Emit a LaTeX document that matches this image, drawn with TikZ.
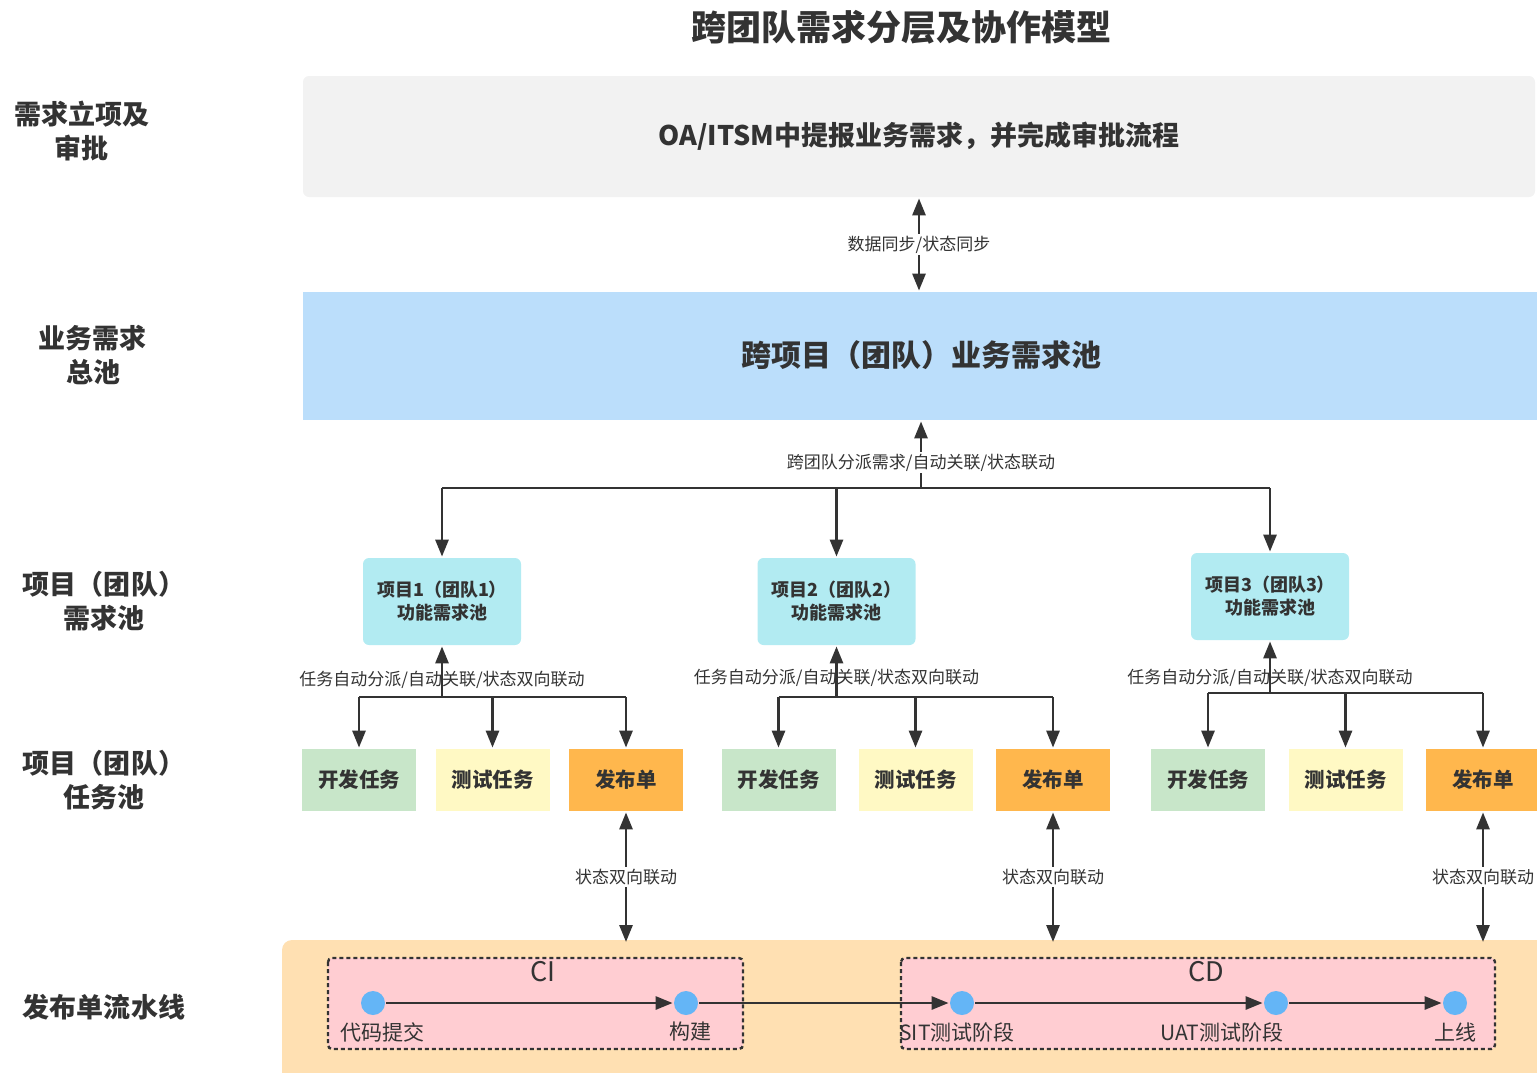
\documentclass[tikz,border=0pt]{standalone}
\usepackage{fontspec}
\setmainfont{Noto Sans CJK SC}
\usetikzlibrary{arrows.meta,positioning}
\definecolor{ink}{HTML}{333333}
\definecolor{graybox}{HTML}{F2F2F2}
\definecolor{poolblue}{HTML}{BBDEFB}
\definecolor{projcyan}{HTML}{B2EBF2}
\definecolor{devgreen}{HTML}{C8E6C9}
\definecolor{testyellow}{HTML}{FFF9C4}
\definecolor{relorange}{HTML}{FFB74D}
\definecolor{pipepeach}{HTML}{FFE0B2}
\definecolor{stagepink}{HTML}{FFCDD2}
\definecolor{dotblue}{HTML}{64B5F6}

\begin{document}
\begin{tikzpicture}[x=0.5pt,y=-0.5pt,color=ink,line width=1.4pt,
  side/.style={align=center,font=\bfseries\fontsize{13.5}{17}\selectfont},
  lbl/.style={font=\fontsize{8.5}{10}\selectfont,fill=white,inner sep=1pt},
  lblclear/.style={font=\fontsize{8.5}{10}\selectfont,inner sep=1pt},
  proj/.style={fill=projcyan,rounded corners=3pt,minimum width=79pt,minimum height=43.5pt,align=center,font=\bfseries\fontsize{9}{11.5}\selectfont},
  task/.style={minimum width=57pt,minimum height=31pt,font=\bfseries\fontsize{10.25}{12}\selectfont},
  dot/.style={circle,fill=dotblue,minimum size=12pt,inner sep=0pt},
  stage/.style={fill=stagepink,line width=1.2pt,dash pattern=on 2pt off 1.5pt,rounded corners=2pt},
  steplbl/.style={font=\fontsize{10.5}{12}\selectfont},
  arr/.style={-{Triangle[length=8.5pt,width=6.5pt]}},
  twoway/.style={{Triangle[length=8.5pt,width=6.5pt]}-{Triangle[length=8.5pt,width=6.5pt]}}]
\useasboundingbox (0,0) rectangle (1537,1072);

% title and layer names
\node[font=\bfseries\fontsize{17.5}{20}\selectfont] (title) at (901,27) {跨团队需求分层及协作模型};
\node[side] (s1) at (82,131) {需求立项及\\审批};
\node[side] (s2) at (93,355) {业务需求\\总池};
\node[side] (s3) at (104,601) {项目（团队）\\需求池};
\node[side] (s4) at (104,780) {项目（团队）\\任务池};
\node[side] (s5) at (104,1007) {发布单流水线};

% approval and business pool
\node[fill=graybox,rounded corners=3pt,minimum width=616pt,minimum height=60.5pt,font=\bfseries\fontsize{13.5}{16}\selectfont] (oa) at (919,136.5) {OA/ITSM中提报业务需求，并完成审批流程};
\node[fill=poolblue,minimum width=621pt,minimum height=64pt] (pool) at (924,356) {};
\node[font=\bfseries\fontsize{15}{18}\selectfont] (pooltext) at (921,355) {跨项目（团队）业务需求池};
\draw[twoway] (oa.south) -- node[lbl] {数据同步/状态同步} (oa.south |- pool.north);

% project pools
\node[proj] (p1) at (442,601.5) {项目1（团队1）\\功能需求池};
\node[proj] (p2) at (836.5,601.5) {项目2（团队2）\\功能需求池};
\node[proj] (p3) at (1270,596.5) {项目3（团队3）\\功能需求池};
\coordinate (split) at (921,488);
\draw[arr] (split) -- node[lbl,pos=0.38] {跨团队分派需求/自动关联/状态联动} (split |- pool.south);
\draw (p1.north |- split) -- (p3.north |- split);
\draw[arr] (p1.north |- split) -- (p1.north);
\draw[arr] (p2.north |- split) -- (p2.north);
\draw[arr] (p3.north |- split) -- (p3.north);

% task pools
\node[task,fill=devgreen] (d1) at (359,780) {开发任务};
\node[task,fill=testyellow] (t1) at (492.5,780) {测试任务};
\node[task,fill=relorange] (r1) at (626,780) {发布单};
\node[task,fill=devgreen] (d2) at (778.5,780) {开发任务};
\node[task,fill=testyellow] (t2) at (915.5,780) {测试任务};
\node[task,fill=relorange] (r2) at (1053,780) {发布单};
\node[task,fill=devgreen] (d3) at (1208,780) {开发任务};
\node[task,fill=testyellow] (t3) at (1345.5,780) {测试任务};
\node[task,fill=relorange] (r3) at (1483,780) {发布单};

\coordinate (j1) at (442,697);
\coordinate (j2) at (836.5,697);
\coordinate (j3) at (1270,693);
\draw[arr] (j1) -- node[lblclear,pos=0.33] {任务自动分派/自动关联/状态双向联动} (p1.south);
\draw[arr] (j2) -- node[lblclear,pos=0.37] {任务自动分派/自动关联/状态双向联动} (p2.south);
\draw[arr] (j3) -- node[lblclear,pos=0.3] {任务自动分派/自动关联/状态双向联动} (p3.south);
\draw (d1.north |- j1) -- (r1.north |- j1);
\draw (d2.north |- j2) -- (r2.north |- j2);
\draw (d3.north |- j3) -- (r3.north |- j3);
\draw[arr] (d1.north |- j1) -- (d1.north);
\draw[arr] (t1.north |- j1) -- (t1.north);
\draw[arr] (r1.north |- j1) -- (r1.north);
\draw[arr] (d2.north |- j2) -- (d2.north);
\draw[arr] (t2.north |- j2) -- (t2.north);
\draw[arr] (r2.north |- j2) -- (r2.north);
\draw[arr] (d3.north |- j3) -- (d3.north);
\draw[arr] (t3.north |- j3) -- (t3.north);
\draw[arr] (r3.north |- j3) -- (r3.north);

% release pipeline
\fill[pipepeach,rounded corners=5pt] (282,940) rectangle (1560,1100);
\coordinate (pipetop) at (0,942);
\draw[twoway] (r1.south) -- node[lbl] {状态双向联动} (r1.south |- pipetop);
\draw[twoway] (r2.south) -- node[lbl] {状态双向联动} (r2.south |- pipetop);
\draw[twoway] (r3.south) -- node[lbl] {状态双向联动} (r3.south |- pipetop);

\draw[stage] (328,958) rectangle (743,1049);
\draw[stage] (901,958) rectangle (1495,1049);
\node[font=\fontsize{13.5}{16}\selectfont] (ci) at (543,972) {CI};
\node[font=\fontsize{13.5}{16}\selectfont] (cd) at (1206,972) {CD};

\node[dot] (c1) at (373,1003) {};
\node[dot] (c2) at (686,1003) {};
\node[dot] (c3) at (962,1003) {};
\node[dot] (c4) at (1276,1003) {};
\node[dot] (c5) at (1455,1003) {};
\node[steplbl] (c1l) at (382,1032) {代码提交};
\node[steplbl] (c2l) at (690,1032) {构建};
\node[steplbl] (c3l) at (957,1032) {SIT测试阶段};
\node[steplbl] (c4l) at (1222,1032) {UAT测试阶段};
\node[steplbl] (c5l) at (1455,1032) {上线};
\draw[arr] (c1) -- (c2);
\draw[arr] (c2) -- (c3);
\draw[arr] (c3) -- (c4);
\draw[arr] (c4) -- (c5);
\end{tikzpicture}
\end{document}
